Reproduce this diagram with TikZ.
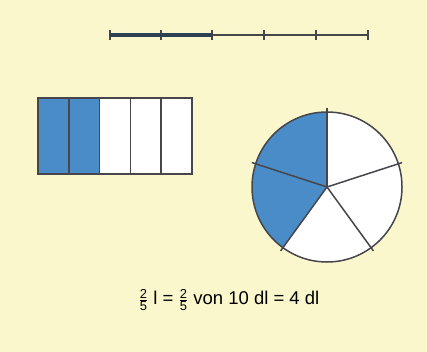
\documentclass[tikz,border=0pt]{standalone}
\usepackage{fontspec}
\usepackage{amsmath}
\setmainfont{Liberation Sans}
\definecolor{bg}{RGB}{250,247,205}
\definecolor{fillblue}{RGB}{74,140,200}
\definecolor{linedark}{RGB}{45,65,85}
\definecolor{linegray}{RGB}{70,70,75}
\newcommand\myfr[2]{\ensuremath{\frac{\text{#1}}{\text{#2}}}}
\begin{document}
\begin{tikzpicture}[x=1pt,y=-1pt,
  part/.style={draw=linegray,line width=1.5pt},
  shaded/.style={part,fill=fillblue},
  blank/.style={part,fill=white},
  tick/.style={draw=linegray,line width=1.4pt}]
\fill[bg] (0,0) rectangle (427,352);
\useasboundingbox (0,0) rectangle (427,352);
% number line
\foreach \i/\x in {0/110,1/161,2/212,3/264,4/316,5/368}{
  \coordinate (t\i) at (\x,35);
  \draw[tick] (\x,30) -- (\x,40);
}
\draw[linegray,line width=1.3pt] (t2) -- (t5);
\draw[linedark,line width=4.5pt] (t0) -- (t2);
% rectangle
\foreach \i/\s in {0/shaded,1/shaded,2/blank,3/blank,4/blank}{
  \path[\s] ({38+\i*30.8},98) rectangle ({38+(\i+1)*30.8},174);
}
% circle
\coordinate (c) at (327,187);
\fill[fillblue] (c) -- ++(90:-75) arc[start angle=-90,end angle=-234,radius=75] -- cycle;
\fill[white] (c) -- ++(-234:75) arc[start angle=-234,end angle=-450,radius=75] -- cycle;
\draw[linegray,line width=1.5pt] (c) circle[radius=75];
\foreach \a in {-90,-162,-234,-306,-18}{
  \draw[linegray,line width=1.5pt] (c) -- ++(\a:79);
}
% text
\node[font=\fontsize{18.5}{22}\selectfont,anchor=center] (t) at (229,300)
  {\myfr{2}{5} l = \myfr{2}{5} von 10 dl = 4 dl};
\end{tikzpicture}
\end{document}
